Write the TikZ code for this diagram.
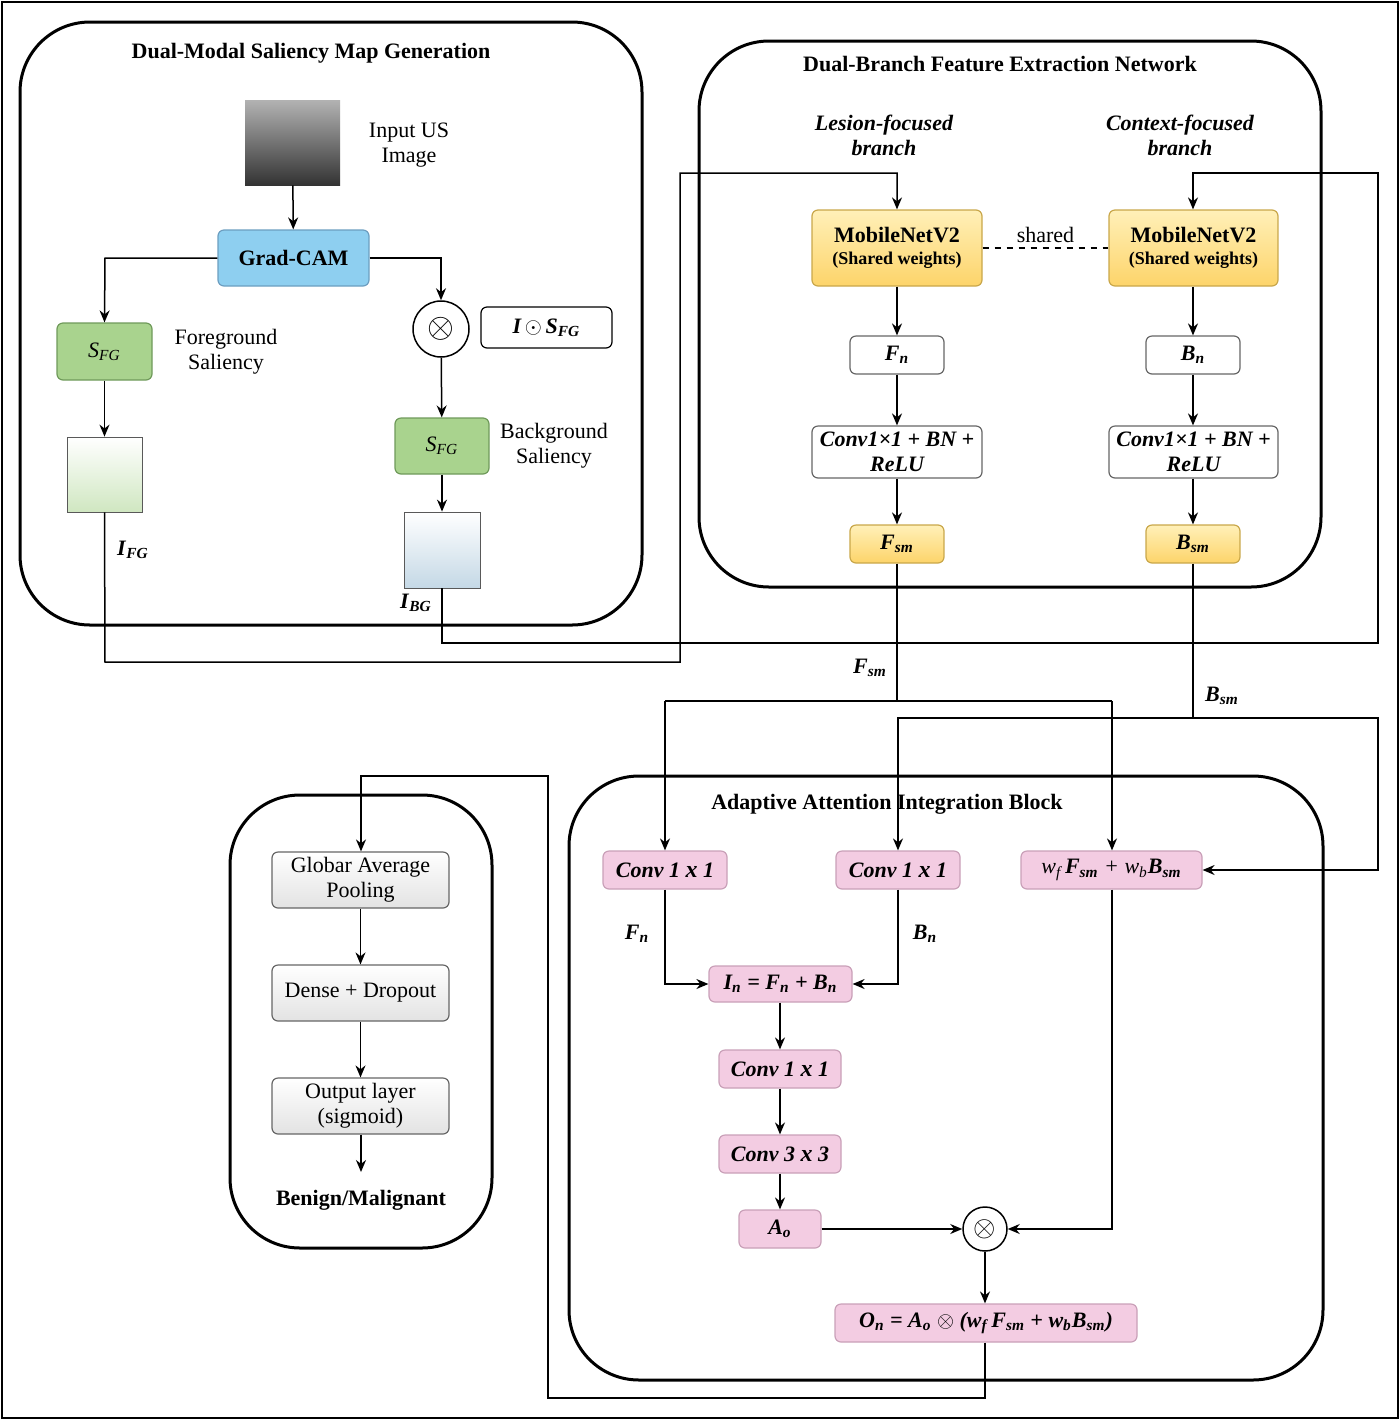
\documentclass[tikz,border=0pt]{standalone}
\usepackage{fontspec}
\setmainfont{Liberation Serif}[BoldFont={Liberation Serif Bold},ItalicFont={Liberation Serif Italic},BoldItalicFont={Liberation Serif Bold Italic}]
\usetikzlibrary{arrows.meta,shadings}
\newcommand{\vsub}[2]{\textit{#1}\textsubscript{\textit{#2}}}
\definecolor{yelA}{HTML}{FFF0B8}\definecolor{yelB}{HTML}{FDD46A}\definecolor{yelD}{HTML}{C9A74A}
\definecolor{pinkF}{HTML}{F3CCE2}\definecolor{pinkD}{HTML}{C9A0B8}
\definecolor{grnF}{HTML}{A9D38E}\definecolor{grnD}{HTML}{6F9A5A}
\definecolor{bluF}{HTML}{8ECFF0}\definecolor{bluD}{HTML}{6C9EC0}
\begin{document}
\begin{tikzpicture}[x=0.5pt,y=-0.5pt,font=\fontsize{11}{12.5}\selectfont,
 grp/.style={draw,line width=1.5pt,rounded corners=35pt},
 bx/.style={draw,rounded corners=3pt,inner sep=0pt,align=center,line width=0.6pt},
 ybox/.style={bx,draw=yelD,top color=yelA,bottom color=yelB,font=\fontsize{11}{12.5}\selectfont\bfseries\itshape},
 pbox/.style={bx,draw=pinkD,fill=pinkF,font=\fontsize{11}{12.5}\selectfont\bfseries\itshape},
 wbox/.style={bx,draw=gray!80!black,fill=white,font=\fontsize{11}{12.5}\selectfont\bfseries\itshape},
 gbox/.style={bx,draw=gray!80!black,top color=white,bottom color=gray!22},
 gsal/.style={bx,draw=grnD,fill=grnF},
 arr/.style={-{Stealth[length=6pt,width=5pt]},line width=0.75pt},
 ln/.style={line width=0.75pt},
 circ/.style={draw,circle,line width=0.75pt,inner sep=0pt}]
\useasboundingbox (0,0) rectangle (1400,1421);
\draw[line width=0.6pt] (2,2) rectangle (1398,1418);
% groups
\draw[grp] (20,22) rectangle (642,625);
\draw[grp] (699,41) rectangle (1321,587);
\draw[grp] (569,776) rectangle (1323,1380);
\draw[grp] (230,795) rectangle (492,1248);
\node[font=\fontsize{11}{12.5}\selectfont\bfseries] (t1) at (311,53) {Dual-Modal Saliency Map Generation};
\node[font=\fontsize{11}{12.5}\selectfont\bfseries] (t2) at (1000,64) {Dual-Branch Feature Extraction Network};
\node[font=\fontsize{11}{12.5}\selectfont\bfseries] (t3) at (887,804) {Adaptive Attention Integration Block};
% group 1
\node[inner sep=0pt,minimum width=47.5pt,minimum height=42.5pt,top color=gray!60,bottom color=black!80,middle color=black!55] (img) at (292.5,142.5) {};
\node[align=center] (inlbl) at (409,145) {Input US\\Image};
\node[bx,draw=bluD,fill=bluF,minimum width=75.5pt,minimum height=28pt,font=\fontsize{11}{12.5}\selectfont\bfseries] (gc) at (293.5,258) {Grad-CAM};
\node[gsal,minimum width=47.5pt,minimum height=28.5pt] (sfg1) at (104.5,351.5) {\vsub{S}{FG}};
\node[align=center] (fgl) at (226,352) {Foreground\\Saliency};
\node[draw=gray!70!black,inner sep=0pt,minimum width=37.5pt,minimum height=37.5pt,top color=white,bottom color=grnF!55] (g1) at (104.5,474.5) {};
\node[font=\fontsize{11}{12.5}\selectfont\bfseries] (ifg) at (133,550) {\vsub{I}{FG}};
\node[circ,minimum size=28pt] (o1) at (441,329) {\LARGE$\otimes$};
\node[bx,draw=black,minimum width=65.5pt,minimum height=20.5pt,font=\fontsize{11}{12.5}\selectfont\bfseries\itshape] (lbl) at (546.5,327.5) {I\,$\odot$\,S\textsubscript{FG}};
\node[gsal,minimum width=47pt,minimum height=28pt] (sfg2) at (442,446) {\vsub{S}{FG}};
\node[align=center] (bgl) at (554,446) {Background\\Saliency};
\node[draw=gray!70!black,inner sep=0pt,minimum width=38pt,minimum height=38pt,top color=white,bottom color=bluD!40] (g2) at (442,550) {};
\node[font=\fontsize{11}{12.5}\selectfont\bfseries] (ibg) at (416,603) {\vsub{I}{BG}};
\draw[arr] (img) -- (gc);
\draw[arr] (gc.west) -- (105,258) -- (sfg1.north);
\draw[arr] (gc.east) -- (441,258) -- (o1.north);
\draw[arr] (sfg1) -- (g1);
\draw[arr] (o1) -- (sfg2);
\draw[arr] (sfg2) -- (g2);
% group 2
\node[align=center,font=\fontsize{11}{12.5}\selectfont\bfseries\itshape] (lb1) at (884,135) {Lesion-focused\\branch};
\node[align=center,font=\fontsize{11}{12.5}\selectfont\bfseries\itshape] (lb2) at (1180,135) {Context-focused\\branch};
\node[ybox,minimum width=85pt,minimum height=38pt,font=\bfseries] (m1) at (897,248) {\fontsize{11}{13}\selectfont MobileNetV2\\[-1pt]\fontsize{9}{11}\selectfont(Shared weights)};
\node[ybox,minimum width=84.5pt,minimum height=38pt,font=\bfseries] (m2) at (1193.5,248) {\fontsize{11}{13}\selectfont MobileNetV2\\[-1pt]\fontsize{9}{11}\selectfont(Shared weights)};
\draw[dashed,ln] (m1) -- (m2) node[midway,above=-1pt] {shared};
\node[wbox,minimum width=47pt,minimum height=19pt] (fn) at (897,355) {F\textsubscript{n}};
\node[wbox,minimum width=47pt,minimum height=19pt] (bn) at (1193,355) {B\textsubscript{n}};
\node[wbox,minimum width=85pt,minimum height=26pt] (cv1) at (897,452) {Conv1×1 + BN +\\ReLU};
\node[wbox,minimum width=84.5pt,minimum height=26pt] (cv2) at (1193.5,452) {Conv1×1 + BN +\\ReLU};
\node[ybox,minimum width=47pt,minimum height=19pt] (fsm) at (897,544) {F\textsubscript{sm}};
\node[ybox,minimum width=47pt,minimum height=19pt] (bsm) at (1193,544) {B\textsubscript{sm}};
\draw[arr] (m1) -- (fn); \draw[arr] (fn) -- (cv1); \draw[arr] (cv1) -- (fsm);
\draw[arr] (m2.south -| bn) -- (bn); \draw[arr] (bn) -- (cv2.north -| bn); \draw[arr] (cv2.south -| bn) -- (bsm);
\draw[arr] (g1.south) -- (105,662) -- (680,662) -- (680,173) -- (897,173) -- (m1.north);
\draw[arr] (g2.south) -- (442,643) -- (1378,643) -- (1378,173) -- (1193,173) -- (bsm.north |- m2.north);
% group 3
\node[pbox,minimum width=62pt,minimum height=19pt] (c1) at (665,870) {Conv 1 \textbf{\large x} 1};
\node[pbox,minimum width=62pt,minimum height=19pt] (c2) at (898,870) {Conv 1 \textbf{\large x} 1};
\node[pbox,minimum width=90.5pt,minimum height=19pt,font=\fontsize{11}{12.5}\selectfont\itshape] (wf) at (1111.5,870) {w\textsubscript{f}\,\textbf{F\textsubscript{sm}} + w\textsubscript{b}\textbf{B\textsubscript{sm}}};
\node[pbox,minimum width=71.5pt,minimum height=18pt] (in) at (780.5,984) {I\textsubscript{n} = F\textsubscript{n} + B\textsubscript{n}};
\node[pbox,minimum width=61pt,minimum height=19pt] (c3) at (780,1069) {Conv 1 \textbf{\large x} 1};
\node[pbox,minimum width=61pt,minimum height=19pt] (c4) at (780,1154) {Conv 3 \textbf{\large x} 3};
\node[pbox,minimum width=41pt,minimum height=19pt] (ao) at (780,1229) {A\textsubscript{o}};
\node[circ,minimum size=22pt] (o2) at (985,1229) {\Large$\otimes$};
\node[pbox,minimum width=151pt,minimum height=19pt] (on) at (986,1323) {O\textsubscript{n} = A\textsubscript{o} $\otimes$ (w\textsubscript{f}\,F\textsubscript{sm} + w\textsubscript{b}B\textsubscript{sm})};
\node[font=\fontsize{11}{12.5}\selectfont\bfseries] (lfsm) at (870,668) {\vsub{F}{sm}};
\node[font=\fontsize{11}{12.5}\selectfont\bfseries] (lbsm) at (1222,696) {\vsub{B}{sm}};
\node[font=\fontsize{11}{12.5}\selectfont\bfseries] (lfn) at (637,934) {\vsub{F}{n}};
\node[font=\fontsize{11}{12.5}\selectfont\bfseries] (lbn) at (925,934) {\vsub{B}{n}};
\draw[ln] (fsm.south) -- (897,701);
\draw[arr] (665,701) -- (c1.north);
\draw[ln] (665,701) -- (1112,701);
\draw[arr] (1112,701) -- (wf.north -| 1112,0);
\draw[ln] (bsm.south) -- (1193,718);
\draw[arr] (1193,718) -- (898,718) -- (c2.north);
\draw[arr] (1193,718) -- (1378,718) -- (1378,870) -- (wf.east);
\draw[arr] (c1.south) -- (665,984) -- (in.west);
\draw[arr] (c2.south) -- (898,984) -- (in.east);
\draw[arr] (in.south -| c3) -- (c3); \draw[arr] (c3) -- (c4); \draw[arr] (c4) -- (ao);
\draw[arr] (ao) -- (o2);
\draw[arr] (wf.south -| 1112,0) -- (1112,1229) -- (o2.east);
\draw[arr] (o2) -- (on.north -| o2);
% group 4
\node[gbox,minimum width=88.5pt,minimum height=28pt] (gap) at (360.5,880) {Globar Average\\Pooling};
\node[gbox,minimum width=88.5pt,minimum height=28pt] (dense) at (360.5,993) {Dense + Dropout};
\node[gbox,minimum width=88.5pt,minimum height=28pt] (out) at (360.5,1106) {Output layer\\(sigmoid)};
\node[font=\fontsize{11}{12.5}\selectfont\bfseries] (bm) at (361,1200) {Benign/Malignant};
\draw[arr] (on.south -| o2) -- (985,1398) -- (548,1398) -- (548,776) -- (361,776) -- (gap.north -| 361,0);
\draw[arr] (gap) -- (dense); \draw[arr] (dense) -- (out);
\draw[arr] (out.south -| 361,0) -- (361,1172);
\end{tikzpicture}
\end{document}
